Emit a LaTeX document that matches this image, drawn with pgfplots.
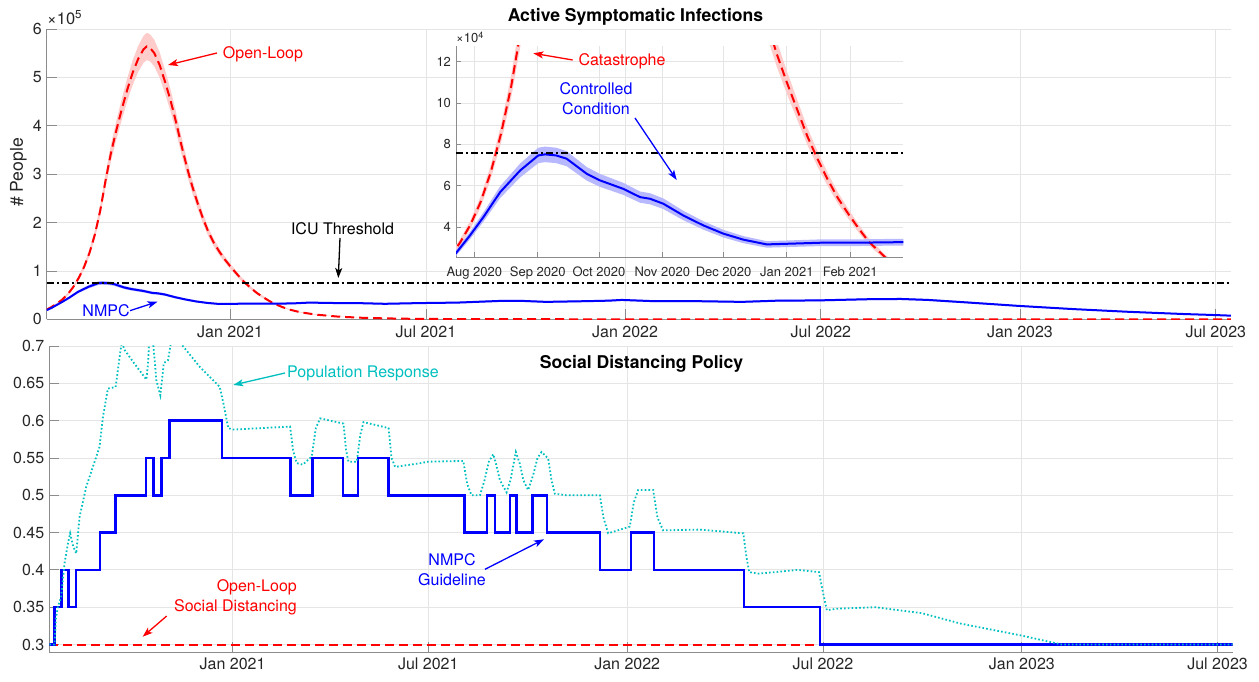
\documentclass[border=0pt]{standalone}
\usepackage{pgfplots}
\usepackage{pgfplotstable}
\pgfplotsset{compat=1.18}
\usepgfplotslibrary{fillbetween}
\usetikzlibrary{arrows.meta}
\usepackage{fontspec}
\setmainfont{TeX Gyre Heros}
\definecolor{mred}{rgb}{1,0,0}
\definecolor{mblue}{rgb}{0,0,1}
\definecolor{mcyan}{rgb}{0,0.75,0.75}
\definecolor{pinkband}{rgb}{1,0.8,0.8}
\definecolor{blueband}{rgb}{0.72,0.72,1}
\definecolor{gridc}{gray}{0.9}
\definecolor{axc}{gray}{0.55}
\definecolor{txt}{gray}{0.15}

% Open-loop active symptomatic infections (day 0 = 1 Jan 2021)
\pgfplotstableread{
day v lo hi
-169.5 20000 19000 21000
-165 25500 24225 26775
-160 32500 30875 34125
-155 41000 38950 43050
-150 52000 49400 54600
-145 66500 63175 69825
-140 85000 80750 89250
-135 108000 102600 113400
-130 137000 130150 143850
-125 175000 166250 183750
-120 225000 213750 236250
-115 288000 273600 302400
-110 345000 327750 362250
-105 392000 372400 411600
-100 435000 413250 456750
-95 475000 451250 498750
-90 510000 484500 535500
-85 538000 511100 564900
-80 558000 530100 585900
-77 564000 535800 592200
-74 561000 532950 589050
-70 550000 522500 577500
-65 525000 498750 551250
-60 490000 465500 514500
-55 452000 429400 474600
-50 408000 387600 428400
-45 360000 342000 378000
-40 315000 299250 330750
-35 275000 261250 288750
-30 240000 228000 252000
-25 208000 197600 218400
-20 180000 171000 189000
-15 158000 150100 165900
-10 140000 133000 147000
-5 124000 117800 130200
0 110000 104500 115500
5 97000 92150 101850
10 84000 79800 88200
15 73000 69350 76650
20 63000 59850 66150
25 54000 51300 56700
30 46500 44175 48825
35 39500 37525 41475
40 33000 31350 34650
48 25500 24225 26775
55 20000 19000 21000
65 14500 13775 15225
80 9500 9025 9975
100 5500 5225 5775
125 2800 2660 2940
160 1200 1140 1260
200 500 475 525
260 150 143 158
350 40 38 42
500 10 10 11
925 0 0 0
}\redtab

% NMPC controlled active symptomatic infections
\pgfplotstableread{
day v lo hi
-169.5 19000 18050 19950
-165 23500 22325 24675
-161.6 27900 26505 29295
-155.1 36000 34200 37800
-148.6 44800 42560 47040
-140.4 56900 54055 59745
-130.6 67400 64030 70770
-121.7 74700 70965 78435
-118.4 75200 71440 78960
-113 74700 70965 78435
-107.8 73100 69445 76755
-98 65800 62510 69090
-91.5 62600 59470 65730
-80.1 58500 55575 61425
-71.9 54500 51775 57225
-67 53700 51015 56385
-60.5 51300 48735 53865
-50.7 45600 43320 47880
-40.9 40800 38760 42840
-31.1 36800 34960 38640
-21.3 33900 32205 35595
-9.9 31600 30020 33180
0 31900 30305 33495
16.2 32400 30780 34020
32.5 32400 30780 34020
57 32700 31065 34335
73 34500 32775 36225
100 33500 31825 35175
117 33500 31825 35175
143 32000 30400 33600
175 33500 31825 35175
210 34500 32775 36225
250 38000 36100 39900
270 38000 36100 39900
292 36000 34200 37800
330 37500 35625 39375
350 38500 36575 40425
362 40000 38000 42000
391 37500 35625 39375
430 37500 35625 39375
473 36000 34200 37800
506 38500 36575 40425
543 39000 37050 40950
590 41500 39425 43575
620 42000 39900 44100
645 40000 38000 42000
680 35000 33250 36750
730 27500 26125 28875
780 21000 19950 22050
830 15500 14725 16275
880 11000 10450 11550
911 8700 8265 9135
925 7500 7125 7875
}\bluetab

% NMPC social distancing guideline
\pgfplotstableread{
day v
-169.5 0.3
-164.9 0.3
-164.9 0.35
-158 0.35
-158 0.4
-151.9 0.4
-151.9 0.35
-144.9 0.35
-144.9 0.4
-122.5 0.4
-122.5 0.45
-108.3 0.45
-108.3 0.5
-79.9 0.5
-79.9 0.55
-73.1 0.55
-73.1 0.5
-65.7 0.5
-65.7 0.55
-58.3 0.55
-58.3 0.6
-9.8 0.6
-9.8 0.55
53.5 0.55
53.5 0.5
73.9 0.5
73.9 0.55
102.3 0.55
102.3 0.5
116.2 0.5
116.2 0.55
144 0.55
144 0.5
214.3 0.5
214.3 0.45
235.5 0.45
235.5 0.5
242.6 0.5
242.6 0.45
256.5 0.45
256.5 0.5
262.7 0.5
262.7 0.45
277.5 0.45
277.5 0.5
291 0.5
291 0.45
339.7 0.45
339.7 0.4
368.4 0.4
368.4 0.45
389.6 0.45
389.6 0.4
473 0.4
473 0.35
543.5 0.35
543.5 0.3
925 0.3
}\steptab

% Population response
\pgfplotstableread{
day v
-169.5 0.3
-164.7 0.3
-163.2 0.337
-161.6 0.35
-158.5 0.364
-155.4 0.409
-152.3 0.435
-150.2 0.449
-147.5 0.432
-144.6 0.422
-141.5 0.471
-135.4 0.511
-129.2 0.538
-123 0.565
-119.9 0.605
-115.3 0.643
-108.2 0.645
-104 0.69
-102.5 0.705
-100 0.695
-92.1 0.679
-79.7 0.655
-78 0.68
-77 0.712
-74 0.712
-72 0.68
-70.5 0.654
-66.8 0.634
-64.5 0.665
-63.7 0.677
-59.7 0.681
-57.5 0.70
-56 0.72
-48 0.72
-46 0.70
-30.3 0.672
-11.8 0.645
-8 0.62
-4 0.59
0.6 0.588
53.2 0.592
56 0.56
59.3 0.543
65 0.541
73.2 0.552
77 0.59
81 0.603
102.6 0.596
105 0.56
107.2 0.545
114.9 0.545
118 0.58
121.1 0.598
144.3 0.59
147 0.55
150.4 0.538
173.6 0.543
181 0.545
213.4 0.546
217 0.515
221 0.5
228.8 0.5
233 0.52
237 0.545
241.1 0.555
244 0.54
247.3 0.52
253.4 0.504
257 0.52
262 0.558
265.7 0.542
269 0.52
273.4 0.507
278 0.527
282 0.55
285.8 0.558
291.9 0.549
295 0.52
298.1 0.502
308.9 0.5
339.7 0.5
343 0.47
347.4 0.449
367.4 0.458
371 0.49
375.1 0.507
389 0.507
393 0.47
398.2 0.453
432.2 0.454
472.4 0.449
475 0.42
477.8 0.397
486.8 0.395
522.7 0.4
542.4 0.397
546 0.37
549.6 0.346
558.6 0.348
594.5 0.35
637.6 0.342
673.5 0.328
729.8 0.312
766.8 0.3
925 0.3
}\cyantab

\pgfplotsset{
  mstyle/.style={
    scale only axis,
    axis x line*=bottom, axis y line*=left,
    axis line style={axc, line width=0.8pt},
    tick style={axc, line width=0.8pt},
    tick align=inside,
    major tick length=10pt,
    grid=major,
    major grid style={gridc, line width=0.8pt},
    tick label style={font=\fontsize{16}{19}\selectfont, text=txt},
    xticklabel style={yshift=-2.7pt},
    yticklabel style={xshift=-1.5pt},
    scaled x ticks=false, scaled y ticks=false,
    /pgf/number format/assume math mode=true,
  },
  mdash/.style={dash pattern=on 9pt off 5pt},
  mdashdot/.style={dash pattern=on 7pt off 3pt on 2pt off 3pt},
  mdot/.style={dash pattern=on 1.6pt off 2.2pt},
}

\begin{document}
\begin{tikzpicture}[x=1pt,y=1pt]

% ---------------- top axis ----------------
\begin{axis}[mstyle, at={(46.7pt,362.7pt)}, anchor=south west,
  width=1184.3pt, height=290.3pt,
  xmin=-169.5, xmax=925, ymin=0, ymax=600000,
  xtick={0,181,365,546,730,911},
  xticklabels={Jan 2021,Jul 2021,Jan 2022,Jul 2022,Jan 2023,Jul 2023},
  ytick={0,100000,200000,300000,400000,500000,600000},
  yticklabels={0,1,2,3,4,5,6},
]
\addplot[name path=rhiA, draw=none, forget plot] table[x=day,y=hi]{\redtab};
\addplot[name path=rloA, draw=none, forget plot] table[x=day,y=lo]{\redtab};
\addplot[pinkband, forget plot] fill between[of=rhiA and rloA];
\addplot[name path=bhiA, draw=none, forget plot] table[x=day,y=hi]{\bluetab};
\addplot[name path=bloA, draw=none, forget plot] table[x=day,y=lo]{\bluetab};
\addplot[blueband, forget plot] fill between[of=bhiA and bloA];
\addplot[mred, line width=2pt, mdash] table[x=day,y=v]{\redtab};
\addplot[mblue, line width=2pt] table[x=day,y=v]{\bluetab};
\addplot[black, line width=1.8pt, mdashdot] coordinates {(-169.5,75800) (925,75800)};
\end{axis}

% ---------------- inset ----------------
\begin{axis}[mstyle, at={(456pt,425pt)}, anchor=south west,
  width=447.3pt, height=211pt,
  xmin=-162, xmax=57, ymin=25500, ymax=127700,
  axis background/.style={fill=white},
  major tick length=5pt,
  tick label style={font=\fontsize{13}{15}\selectfont, text=txt},
  xticklabel style={yshift=-3.4pt},
  yticklabel style={xshift=0pt},
  xtick={-153,-122,-92,-61,-31,0,31},
  xticklabels={Aug 2020,Sep 2020,Oct 2020,Nov 2020,Dec 2020,Jan 2021,Feb 2021},
  ytick={40000,60000,80000,100000,120000},
  yticklabels={4,6,8,10,12},
]
\addplot[name path=rhiB, draw=none, forget plot] table[x=day,y=hi]{\redtab};
\addplot[name path=rloB, draw=none, forget plot] table[x=day,y=lo]{\redtab};
\addplot[pinkband, forget plot] fill between[of=rhiB and rloB];
\addplot[name path=bhiB, draw=none, forget plot] table[x=day,y=hi]{\bluetab};
\addplot[name path=bloB, draw=none, forget plot] table[x=day,y=lo]{\bluetab};
\addplot[blueband, forget plot] fill between[of=bhiB and bloB];
\addplot[mred, line width=2pt, mdash] table[x=day,y=v]{\redtab};
\addplot[mblue, line width=2pt] table[x=day,y=v]{\bluetab};
\addplot[black, line width=1.8pt, mdashdot] coordinates {(-162,75800) (57,75800)};
\end{axis}

% ---------------- bottom axis ----------------
\begin{axis}[mstyle, at={(49.3pt,30pt)}, anchor=south west,
  width=1183.4pt, height=306pt,
  xmin=-169.5, xmax=925, ymin=0.29, ymax=0.7,
  xtick={0,181,365,546,730,911},
  xticklabels={Jan 2021,Jul 2021,Jan 2022,Jul 2022,Jan 2023,Jul 2023},
  ytick={0.3,0.35,0.4,0.45,0.5,0.55,0.6,0.65,0.7},
  yticklabels={0.3,0.35,0.4,0.45,0.5,0.55,0.6,0.65,0.7},
]
\addplot[mred, line width=2pt, mdash] coordinates {(-169.5,0.3) (925,0.3)};
\addplot[mblue, line width=2.5pt] table[x=day,y=v]{\steptab};
\addplot[mcyan, line width=1.8pt, mdot] table[x=day,y=v]{\cyantab};
\end{axis}

% ---------------- titles and labels ----------------
\node[font=\fontsize{17.6}{21}\selectfont\bfseries, inner sep=0] at (635.5,665) {Active Symptomatic Infections};
\node[font=\fontsize{17.6}{21}\selectfont\bfseries, inner sep=0] at (641.5,318) {Social Distancing Policy};
\node[rotate=90, font=\fontsize{17.6}{21}\selectfont, text=txt, inner sep=0] at (18.5,509.5) {\# People};
\node[anchor=base west, font=\fontsize{16.5}{18}\selectfont, text=txt, inner sep=0] at (47,657) {×10\textsuperscript{5}};
\node[anchor=base west, font=\fontsize{13}{15}\selectfont, text=txt, inner sep=0] at (456,639) {×10\textsuperscript{4}};

% ---------------- annotations ----------------
\tikzset{ann/.style={line width=1.3pt, -{Stealth[length=10pt,width=7pt,inset=2.5pt]}}}
\node[text=mred, font=\fontsize{16}{19}\selectfont, inner sep=0] at (263,628) {Open-Loop};
\draw[ann, mred] (217,629) -- (168,617);
\node[text=black, font=\fontsize{16}{19}\selectfont, inner sep=0] at (342.5,453) {ICU Threshold};
\draw[ann, black] (340,444) -- (338.3,404);
\node[text=mblue, font=\fontsize{16}{19}\selectfont, inner sep=0] at (106,371) {NMPC};
\draw[ann, mblue] (130,371.3) -- (157.5,380.3);

\node[text=mred, font=\fontsize{16}{19}\selectfont, inner sep=0] at (622,621) {Catastrophe};
\draw[ann, mred] (572.7,622) -- (533.3,628.7);
\node[text=mblue, font=\fontsize{16}{20}\selectfont, inner sep=0, align=center] at (596,583) {Controlled\\ Condition};
\draw[ann, mblue] (635,564) -- (676.7,502);

\node[text=mcyan, font=\fontsize{16}{19}\selectfont, inner sep=0, anchor=west] at (287,309) {Population Response};
\draw[ann, mcyan] (285,309) -- (233.3,297);
\node[text=mred, font=\fontsize{16}{20}\selectfont, inner sep=0, align=right, anchor=east] at (297,85) {Open-Loop\\ Social Distancing};
\draw[ann, mred] (166.7,66) -- (142.7,45.3);
\node[text=mblue, font=\fontsize{16}{20}\selectfont, inner sep=0, align=center] at (452,112) {NMPC\\ Guideline};
\draw[ann, mblue] (485,112.7) -- (544,142.7);

\pgfresetboundingbox
\useasboundingbox (0,0) rectangle (1259,682);
\end{tikzpicture}
\end{document}
